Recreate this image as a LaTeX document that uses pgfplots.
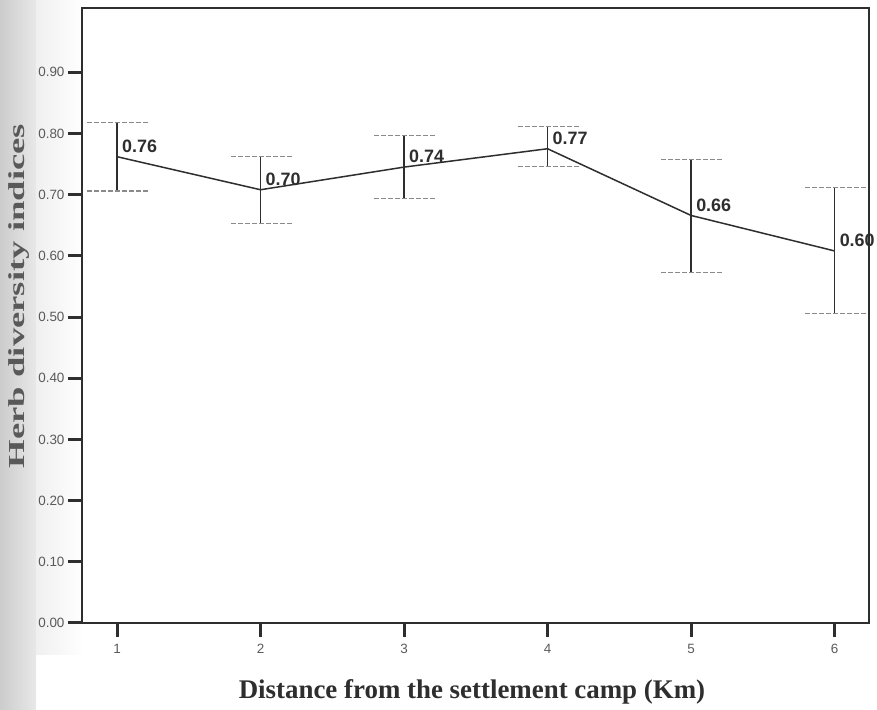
\documentclass[border=0pt]{standalone}
\usepackage{fontspec}
\setmainfont{Liberation Serif}
\newfontfamily\arial{Liberation Sans}
\usepackage{pgfplots}
\pgfplotsset{compat=1.18}
\usepackage{pgfplotstable}
\usepackage{graphicx}

\definecolor{axc}{HTML}{2E2E2E}
\definecolor{tickc}{HTML}{5A5A5A}
\definecolor{capc}{HTML}{8A8A8A}

\pgfplotstableread{
x mean up lo lab
1 0.762 0.818 0.706 0.76
2 0.708 0.763 0.653 0.70
3 0.745 0.797 0.693 0.74
4 0.775 0.811 0.746 0.77
5 0.666 0.758 0.573 0.66
6 0.608 0.711 0.506 0.60
}\data

\begin{document}
\begin{tikzpicture}
\path[use as bounding box] (0,0) rectangle (877bp,710bp);
\shade[left color=gray!40, right color=gray!18] (0,0) rectangle (36bp,710bp);
\shade[left color=gray!12, right color=white] (36bp,55bp) rectangle (84bp,710bp);
\begin{axis}[
  at={(82bp,87bp)}, anchor=south west,
  scale only axis, width=787bp, height=615bp,
  xmin=0.756, xmax=6.24, ymin=0, ymax=1.005,
  axis line style={axc, line width=1.6bp},
  xtick={1,2,3,4,5,6},
  ytick={0,0.1,0.2,0.3,0.4,0.5,0.6,0.7,0.8,0.9},
  yticklabels={0.00,0.10,0.20,0.30,0.40,0.50,0.60,0.70,0.80,0.90},
  tick align=outside, tick pos=left,
  major tick length=14bp,
  tick style={axc, line width=3bp},
  ticklabel style={font=\arial\fontsize{13.5}{13.5}\selectfont, text=tickc},
  xticklabel style={yshift=-4bp},
  /pgf/number format/assume math mode=true,
  clip=false,
]
\addplot[axc, line width=1.5bp, mark=none,
  error bars/.cd, y dir=both, y explicit, error mark=none,
  error bar style={axc, line width=1.8bp}]
  table[x=x, y=mean, y error plus expr=\thisrow{up}-\thisrow{mean},
        y error minus expr=\thisrow{mean}-\thisrow{lo}] {\data};
\addplot[only marks, mark=-, mark size=31bp,
  mark options={draw=capc, line width=1.1bp, dash pattern=on 5bp off 2bp}]
  table[x=x, y=up] {\data};
\addplot[only marks, mark=-, mark size=31bp,
  mark options={draw=capc, line width=1.1bp, dash pattern=on 5bp off 2bp}]
  table[x=x, y=lo] {\data};
\addplot[draw=none, mark=none, point meta=explicit symbolic,
  nodes near coords={\pgfplotspointmeta},
  every node near coord/.append style={anchor=south west, inner sep=0pt,
    xshift=5bp, yshift=4bp, text=axc,
    font=\arial\bfseries\fontsize{18}{18}\selectfont}]
  table[x=x, y=mean, meta=lab] {\data};
\end{axis}
\node[rotate=90, text=black!65, font=\bfseries\fontsize{23}{23}\selectfont]
  at (19bp,414bp) {\scalebox{1.6}[1]{Herb diversity indices}};
\node[text=axc, font=\bfseries\fontsize{27}{27}\selectfont]
  at (472bp,18bp) {Distance from the settlement camp (Km)};
\end{tikzpicture}
\end{document}
